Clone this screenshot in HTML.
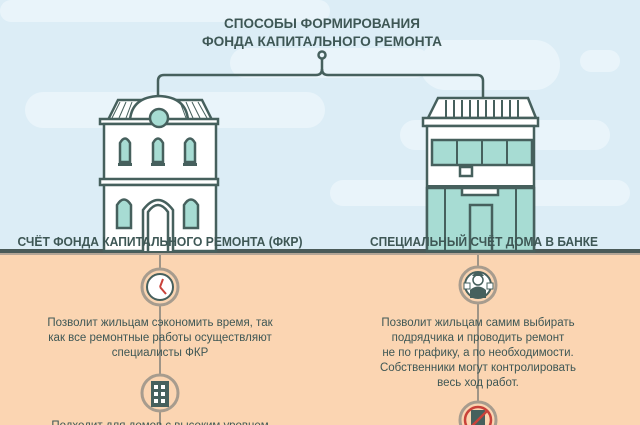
<!DOCTYPE html>
<html><head><meta charset="utf-8"><style>
html,body{margin:0;padding:0;width:640px;height:425px;overflow:hidden;background:#dcedf6}
svg{display:block}
text{font-family:"Liberation Sans",sans-serif;fill:#3e5755}
</style></head><body>
<svg width="640" height="425" viewBox="0 0 640 425" xmlns="http://www.w3.org/2000/svg">
<rect width="640" height="252" fill="#dcedf6"/>
<g fill="#e9f4fa">
<rect x="0" y="0" width="330" height="22" rx="11"/>
<rect x="230" y="48" width="200" height="30" rx="15"/>
<rect x="420" y="40" width="140" height="50" rx="25"/>
<rect x="580" y="50" width="40" height="22" rx="11"/>
<rect x="25" y="92" width="300" height="36" rx="18"/>
<rect x="400" y="120" width="210" height="30" rx="15"/>
<rect x="330" y="180" width="300" height="26" rx="13"/>
</g>
<rect x="0" y="252" width="640" height="173" fill="#fbd5b2"/>
<rect x="0" y="249" width="640" height="4" fill="#4a5a58"/>
<rect x="0" y="253" width="640" height="2" fill="#b3a596"/>

<text x="322" y="28" font-size="14" font-weight="bold" text-anchor="middle" textLength="196" lengthAdjust="spacingAndGlyphs">СПОСОБЫ ФОРМИРОВАНИЯ</text>
<text x="322" y="46" font-size="14" font-weight="bold" text-anchor="middle" textLength="240" lengthAdjust="spacingAndGlyphs">ФОНДА КАПИТАЛЬНОГО РЕМОНТА</text>

<g fill="none" stroke="#46605d" stroke-width="2.5">
<circle cx="322" cy="55" r="3.5"/>
<path d="M322 59 V69 Q322 75 316 75 H164 Q158 75 158 81 V100"/>
<path d="M322 69 Q322 75 328 75 H477 Q483 75 483 81 V100"/>
</g>

<!-- left building -->
<g stroke="#46605d" stroke-width="2.5" fill="#fff">
<path d="M108 120 L118 100 H202 L212 120 Z" fill="#fff"/>
<path d="M130 120 Q132 97 159 96 Q186 97 188 120 Z"/>
<rect x="100" y="119" width="118" height="5"/>
<rect x="104" y="124" width="112" height="56"/>
<rect x="100" y="179" width="118" height="6"/>
<rect x="104" y="185" width="112" height="66"/>
<circle cx="159" cy="118" r="9" fill="#a7dcd3"/>
<path d="M120 162 V143 Q125 134 130 143 V162 Z" fill="#a7dcd3"/>
<path d="M153 162 V143 Q158 134 163 143 V162 Z" fill="#a7dcd3"/>
<path d="M185 162 V143 Q190 134 195 143 V162 Z" fill="#a7dcd3"/>
<path d="M117 228 V205 Q124 194 131 205 V228 Z" fill="#a7dcd3"/>
<path d="M184 228 V205 Q191 194 198 205 V228 Z" fill="#a7dcd3"/>
<path d="M143 251 V210 Q158 190 173 210 V251"/>
<path d="M148 251 V212 Q158 198 168 212 V251"/>
</g>
<g stroke="#46605d" stroke-width="1" fill="none">
<path d="M120 102 L112 118 M126 102 L119 118 M132 102 L126 118 M180 102 L186 118 M186 102 L193 118 M192 102 L200 118 M198 102 L207 118"/>
</g>
<g fill="#46605d"><rect x="118" y="163" width="14" height="3"/><rect x="151" y="163" width="14" height="3"/><rect x="183" y="163" width="14" height="3"/></g>

<!-- right building -->
<g stroke="#46605d" stroke-width="2.5" fill="#fff">
<path d="M428 118 L438 98 H528 L536 118 Z"/>
<rect x="423" y="118" width="115" height="8"/>
<rect x="427" y="126" width="107" height="125"/>
<rect x="427" y="188" width="107" height="63" fill="#a7dcd3"/>
<rect x="432" y="140" width="100" height="25" fill="#a7dcd3"/>
<rect x="460" y="167" width="12" height="9"/>
<rect x="462" y="188" width="36" height="7" fill="#fff"/>
<rect x="470" y="205" width="22" height="46" fill="#a7dcd3"/>
</g>
<g stroke="#46605d" stroke-width="2" fill="none">
<path d="M446 100 V117 M454 100 V117 M462 100 V117 M470 100 V117 M478 100 V117 M486 100 V117 M494 100 V117 M502 100 V117 M510 100 V117 M518 100 V117"/>
<path d="M457 140 V165 M482 140 V165 M507 140 V165"/>
<path d="M445 188 V251 M516 188 V251 M427 186 H534"/>
</g>

<text x="160" y="246" font-size="13" font-weight="bold" text-anchor="middle" textLength="285" lengthAdjust="spacingAndGlyphs">СЧЁТ ФОНДА КАПИТАЛЬНОГО РЕМОНТА (ФКР)</text>
<text x="484" y="246" font-size="13" font-weight="bold" text-anchor="middle" textLength="228" lengthAdjust="spacingAndGlyphs">СПЕЦИАЛЬНЫЙ СЧЁТ ДОМА В БАНКЕ</text>

<g stroke="#9f9587" stroke-width="2" fill="none">
<path d="M160 255 V425 M478 255 V425"/>
</g>
<g fill="#fff" stroke="#46605d" stroke-width="2">
<circle cx="160" cy="287" r="18" stroke="#a79c8e" stroke-width="3" fill="#fbd5b2"/>
<circle cx="160" cy="287" r="13"/>
<circle cx="160" cy="393" r="18" stroke="#a79c8e" stroke-width="3" fill="#fbd5b2"/>
<circle cx="478" cy="285" r="18" stroke="#a79c8e" stroke-width="3" fill="#fbd5b2"/>
<circle cx="478" cy="285" r="13"/>
<circle cx="478" cy="420" r="18" stroke="#a79c8e" stroke-width="3" fill="#fbd5b2"/>
</g>
<path d="M160 287 L163 279 M160 287 L166 294" stroke="#c9423a" stroke-width="2" fill="none"/>
<rect x="151" y="381" width="18" height="26" fill="#46605d"/>
<g fill="#fff"><rect x="154" y="385" width="4" height="4"/><rect x="161" y="385" width="4" height="4"/><rect x="154" y="392" width="4" height="4"/><rect x="161" y="392" width="4" height="4"/><rect x="154" y="399" width="4" height="4"/><rect x="161" y="399" width="4" height="4"/></g>
<path d="M470 298 V290 Q478 283 486 290 V298 Z" fill="#46605d"/>
<circle cx="478" cy="280" r="5" fill="#fff" stroke="#46605d" stroke-width="1.5"/>
<path d="M472 276 Q478 268 484 276 Z" fill="#46605d"/>
<rect x="464" y="283" width="6" height="6" fill="#fff" stroke="#46605d"/>
<rect x="487" y="283" width="6" height="6" fill="#fff" stroke="#46605d"/>
<rect x="471" y="410" width="14" height="15" fill="#46605d"/>
<circle cx="478" cy="420" r="13" fill="none" stroke="#c9423a" stroke-width="2.5"/>
<path d="M469 429 L487 411" stroke="#c9423a" stroke-width="2.5"/>

<g font-size="11.5" text-anchor="middle">
<text x="160" y="326">Позволит жильцам сэкономить время, так</text>
<text x="160" y="341">как все ремонтные работы осуществляют</text>
<text x="160" y="356">специалисты ФКР</text>
<text x="160" y="429">Подходит для домов с высоким уровнем</text>
<text x="478" y="326">Позволит жильцам самим выбирать</text>
<text x="478" y="341">подрядчика и проводить ремонт</text>
<text x="478" y="356">не по графику, а по необходимости.</text>
<text x="478" y="371">Собственники могут контролировать</text>
<text x="478" y="386">весь ход работ.</text>
</g>
</svg>
</body></html>
